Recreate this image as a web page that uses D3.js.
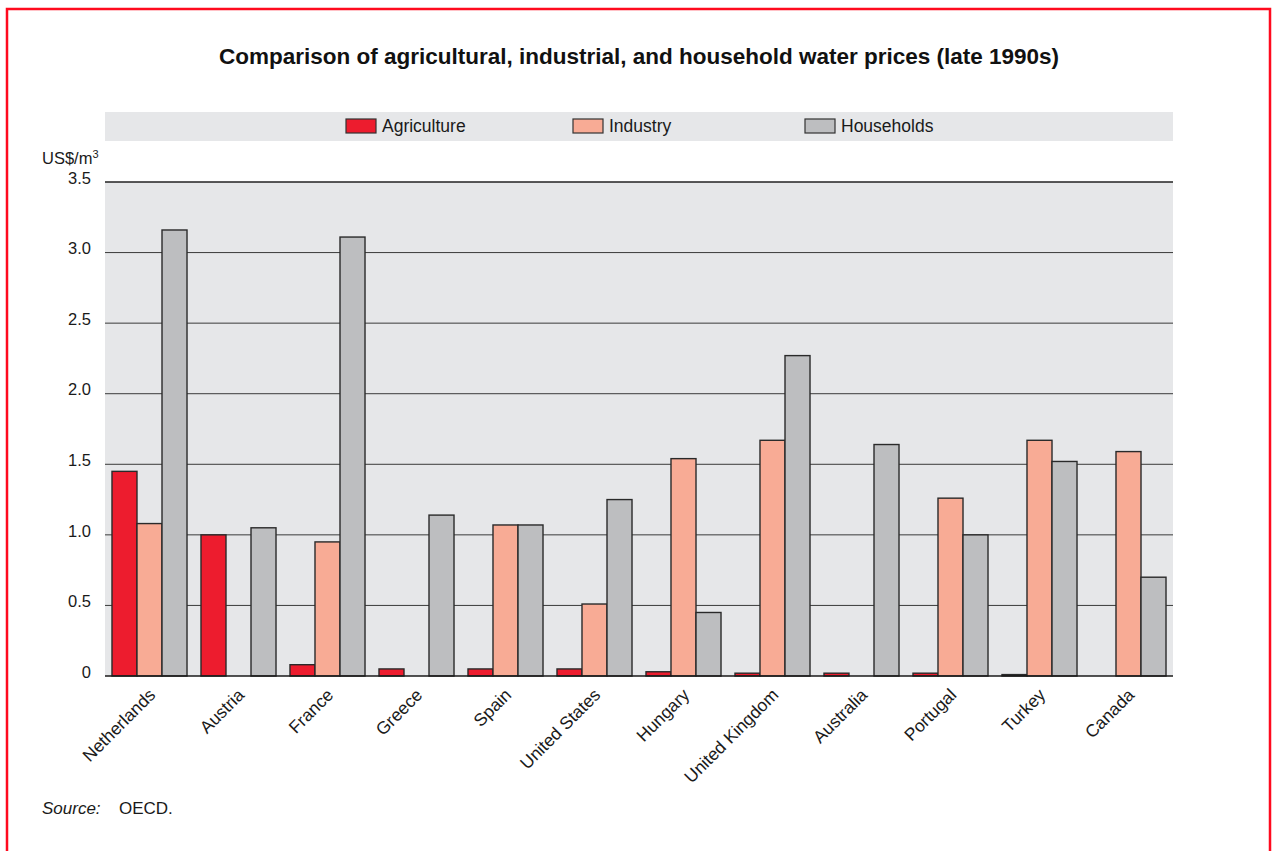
<!DOCTYPE html>
<html>
<head>
<meta charset="utf-8">
<script src="https://cdn.jsdelivr.net/npm/d3@7"></script>
<style>
  body { margin: 0; background: #fff; }
  svg { display: block; font-family: "Liberation Sans", Arial, sans-serif; }
</style>
</head>
<body>
<svg id="chart"></svg>
<script>
var width = 1274;
var height = 851;

// data (US$ per m3)
var countries = ["Netherlands", "Austria", "France", "Greece", "Spain", "United States",
  "Hungary", "United Kingdom", "Australia", "Portugal", "Turkey", "Canada"];
var seriesNames = ["Agriculture", "Industry", "Households"];
var agriculture = [1.45, 1.00, 0.08, 0.05, 0.05, 0.05, 0.03, 0.02, 0.02, 0.02, 0.01, 0];
var industry    = [1.08, 0,    0.95, 0,    1.07, 0.51, 1.54, 1.67, 0,    1.26, 1.67, 1.59];
var households  = [3.16, 1.05, 3.11, 1.14, 1.07, 1.25, 0.45, 2.27, 1.64, 1.00, 1.52, 0.70];
var yTicks = [0, 0.5, 1.0, 1.5, 2.0, 2.5, 3.0, 3.5];
var colors = ["#ed1c2e", "#f8ab95", "#bdbec0"];

var series = [agriculture, industry, households];

var svg = d3.select("#chart").attr("width", width).attr("height", height);

// red frame (bottom runs off the page)
svg.append("path")
  .attr("d", "M7,860 L7,9 L1270,9 L1270,860")
  .attr("fill", "none")
  .attr("stroke", "#ff0a1e")
  .attr("stroke-width", 2.5);

var margin = {left: 105, right: 1173, top: 182, bottom: 676};

var x = d3.scaleBand().domain(countries).range([margin.left, margin.right]).paddingInner(0.157).paddingOuter(0.0785);
var xs = d3.scaleBand().domain(seriesNames).range([0, x.bandwidth()]);
var y = d3.scaleLinear().domain([0, 3.5]).range([margin.bottom, margin.top]);

// title
svg.append("text")
  .attr("x", 639).attr("y", 64)
  .attr("text-anchor", "middle")
  .attr("font-size", 22.5).attr("font-weight", "bold")
  .attr("fill", "#111")
  .text("Comparison of agricultural, industrial, and household water prices (late 1990s)");

// legend band
svg.append("rect")
  .attr("x", margin.left).attr("y", 112)
  .attr("width", margin.right - margin.left).attr("height", 29)
  .attr("fill", "#e6e7e9");

var legendX = [346, 573, 805];
var legend = svg.append("g").selectAll("g")
  .data(seriesNames).enter().append("g")
  .attr("transform", function(d, i) { return "translate(" + legendX[i] + ",119)"; });
legend.append("rect")
  .attr("width", 30).attr("height", 14)
  .attr("fill", function(d, i) { return colors[i]; })
  .attr("stroke", "#333").attr("stroke-width", 1.2);
legend.append("text")
  .attr("x", 36).attr("y", 13)
  .attr("font-size", 17.5).attr("fill", "#1a1a1a")
  .text(function(d) { return d; });

// plot background
svg.append("rect")
  .attr("x", margin.left).attr("y", margin.top)
  .attr("width", margin.right - margin.left).attr("height", margin.bottom - margin.top)
  .attr("fill", "#e6e7e9");

// gridlines
svg.append("g").selectAll("line")
  .data(yTicks.filter(function(d) { return d > 0; }))
  .enter().append("line")
  .attr("x1", margin.left).attr("x2", margin.right)
  .attr("y1", function(d) { return y(d); }).attr("y2", function(d) { return y(d); })
  .attr("stroke", function(d) { return d == 3.5 ? "#222" : "#3a3a3a"; })
  .attr("stroke-width", function(d) { return d == 3.5 ? 1.6 : 1; });

// y axis labels
var yAxis = d3.axisLeft(y).tickValues(yTicks).tickSize(0).tickPadding(0)
  .tickFormat(function(d) { return d == 0 ? "0" : d3.format(".1f")(d); });
var ya = svg.append("g").attr("transform", "translate(91,-4)").call(yAxis);
ya.select(".domain").remove();
ya.selectAll("text").attr("font-size", 16.5).attr("fill", "#1a1a1a").attr("font-family", "Liberation Sans, Arial, sans-serif");

var unit = svg.append("text").attr("x", 42).attr("y", 164)
  .attr("font-size", 16.5).attr("fill", "#1a1a1a");
unit.append("tspan").text("US$/m");
unit.append("tspan").attr("dy", -6).attr("font-size", 11).text("3");

// bars
var groups = svg.append("g").selectAll("g")
  .data(countries).enter().append("g")
  .attr("transform", function(d) { return "translate(" + x(d) + ",0)"; });

groups.selectAll("rect")
  .data(function(d, i) {
    return seriesNames.map(function(s, k) { return {s: s, k: k, v: series[k][i]}; })
      .filter(function(o) { return o.v > 0; });
  })
  .enter().append("rect")
  .attr("x", function(o) { return xs(o.s); })
  .attr("width", xs.bandwidth())
  .attr("y", function(o) { return y(o.v); })
  .attr("height", function(o) { return y(0) - y(o.v); })
  .attr("fill", function(o) { return o.v < 0.015 ? "#222" : colors[o.k]; })
  .attr("stroke", "#2a2a2a").attr("stroke-width", 1.4);

// baseline
svg.append("line")
  .attr("x1", margin.left).attr("x2", margin.right)
  .attr("y1", y(0)).attr("y2", y(0))
  .attr("stroke", "#1a1a1a").attr("stroke-width", 1.6);

// x labels
var xAxis = d3.axisBottom(x).tickSize(0).tickPadding(0);
var xa = svg.append("g").attr("transform", "translate(0," + (margin.bottom) + ")").call(xAxis);
xa.select(".domain").remove();
xa.selectAll("text")
  .attr("font-size", 17.5).attr("fill", "#1a1a1a").attr("font-family", "Liberation Sans, Arial, sans-serif")
  .attr("text-anchor", "end")
  .attr("dy", null).attr("y", 0)
  .attr("transform", "translate(7,20) rotate(-45)");

// source
var src = svg.append("text").attr("x", 42).attr("y", 814).attr("font-size", 17).attr("fill", "#1a1a1a");
src.append("tspan").attr("font-style", "italic").text("Source:");
src.append("tspan").attr("x", 119).text("OECD.");
</script>
</body>
</html>
